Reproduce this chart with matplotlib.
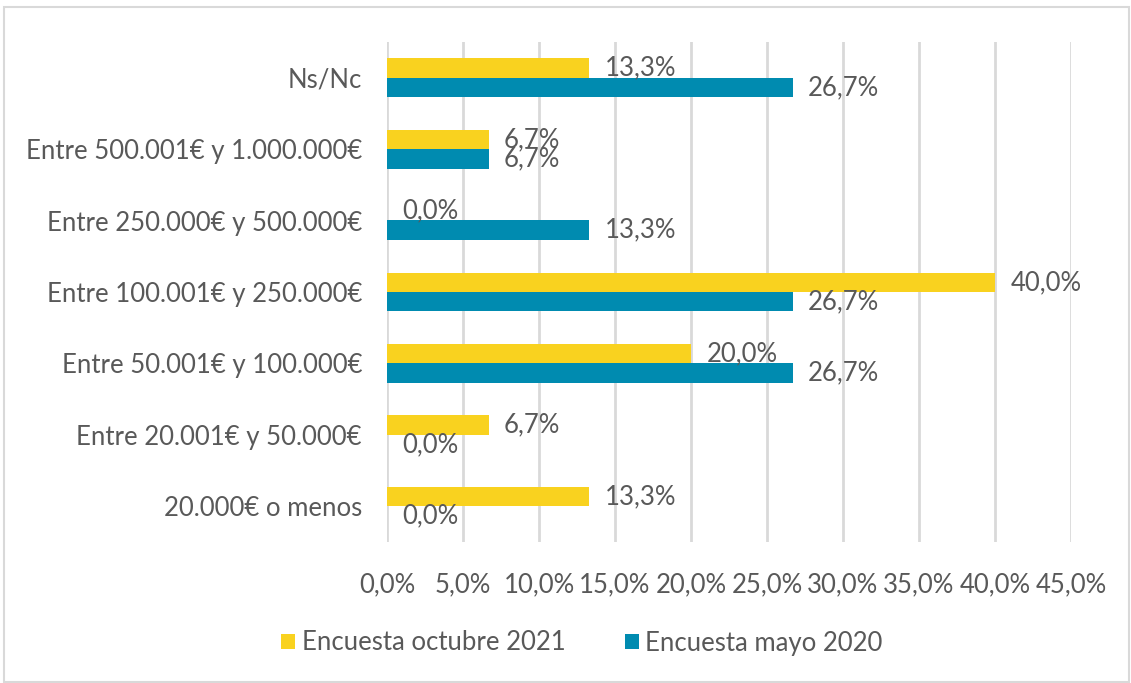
import matplotlib.pyplot as plt
from matplotlib.patches import Rectangle
import numpy as np

# categories listed top to bottom as shown in the chart
categories = ['Ns/Nc', 'Entre 500.001€ y 1.000.000€', 'Entre 250.000€ y 500.000€',
              'Entre 100.001€ y 250.000€', 'Entre 50.001€ y 100.000€',
              'Entre 20.001€ y 50.000€', '20.000€ o menos']
oct_2021 = [13.3, 6.7, 0.0, 40.0, 20.0, 6.7, 13.3]
may_2020 = [26.7, 6.7, 13.3, 26.7, 26.7, 0.0, 0.0]
x_ticks = [0, 5, 10, 15, 20, 25, 30, 35, 40, 45]

yellow = '#F9D21F'
blue = '#008BB0'
text_col = '#595959'
grid_col = '#D9D9D9'
fs = 18.5

plt.rcParams['font.family'] = ['Lato', 'DejaVu Sans']

W, H = 1131, 683
fig = plt.figure(figsize=(W / 100, H / 100), dpi=100)
ax = fig.add_axes([387 / W, 1 - 542 / H, (1071 - 387) / W, (542 - 42) / H])

n = len(categories)
y = np.arange(n)[::-1]  # top category at highest y
h = 0.275
off = 0.135

ax.barh(y + off, oct_2021, height=h, color=yellow, label='Encuesta octubre 2021', zorder=3)
ax.barh(y - off, may_2020, height=h, color=blue, label='Encuesta mayo 2020', zorder=3)

# data labels (the 6,7% pair overlaps in the original too)
for yi, v in zip(y, oct_2021):
    ax.annotate(f'{v:.1f}%'.replace('.', ','), (v, yi + off), xytext=(11, 0),
                textcoords='offset points', va='center', ha='left',
                fontsize=fs, color=text_col, zorder=4)
for yi, v in zip(y, may_2020):
    ax.annotate(f'{v:.1f}%'.replace('.', ','), (v, yi - off), xytext=(11, 0),
                textcoords='offset points', va='center', ha='left',
                fontsize=fs, color=text_col, zorder=4)

ax.set_xlim(0, 45)
ax.set_ylim(-0.5, n - 0.5)
ax.set_xticks(x_ticks)
ax.set_xticklabels([f'{t:.1f}%'.replace('.', ',') for t in x_ticks])
ax.set_yticks(y)
ax.set_yticklabels(categories)
ax.tick_params(axis='x', length=0, pad=22, labelsize=fs, labelcolor=text_col)
ax.tick_params(axis='y', length=0, pad=18, labelsize=fs, labelcolor=text_col)
ax.grid(axis='x', color=grid_col, linewidth=2, zorder=0)
for s in ax.spines.values():
    s.set_visible(False)

leg = fig.legend(loc='center', bbox_to_anchor=(582 / W, 1 - 643 / H), ncol=2,
                 frameon=False, fontsize=fs, handlelength=0.55, handleheight=0.55,
                 columnspacing=2.3, handletextpad=0.25)
for t in leg.get_texts():
    t.set_color(text_col)

fig.patches.append(Rectangle((4 / W, 1 / H), (W - 6) / W, (H - 8) / H,
                             transform=fig.transFigure, fill=False,
                             edgecolor=grid_col, linewidth=1.5))

fig.savefig('out.png', dpi=100)
